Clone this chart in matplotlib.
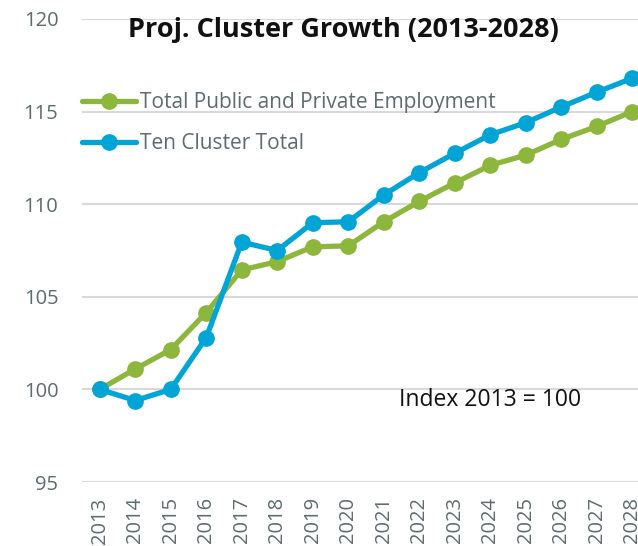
import matplotlib
matplotlib.use("Agg")
import matplotlib.pyplot as plt

years = [str(y) for y in range(2013, 2029)]
total_emp = [100.0, 101.1, 102.15, 104.15, 106.45, 106.9, 107.7, 107.75,
             109.05, 110.15, 111.15, 112.1, 112.65, 113.5, 114.2, 115.0]
ten_cluster = [100.0, 99.4, 100.0, 102.8, 107.95, 107.5, 109.0, 109.05,
               110.5, 111.7, 112.75, 113.75, 114.4, 115.25, 116.05, 116.8]
yticks = [95, 100, 105, 110, 115, 120]

plt.rcParams['font.family'] = ['Open Sans', 'DejaVu Sans']
grey = '#5f6b6d'
green = '#8db63c'
blue = '#00a5d6'

fig = plt.figure(figsize=(6.38, 5.46), dpi=100)
ax = fig.add_axes([82/638, 1-482/546, (650-82)/638, (482-19)/546])
x = list(range(len(years)))
ax.plot(x, total_emp, color=green, lw=3.8, marker='o', ms=11,
        label='Total Public and Private Employment', solid_capstyle='round')
ax.plot(x, ten_cluster, color=blue, lw=3.8, marker='o', ms=11,
        label='Ten Cluster Total', solid_capstyle='round')

ax.set_xlim(-0.5, len(years) - 0.5)
ax.set_ylim(95, 120)
ax.set_yticks(yticks)
ax.set_xticks(x)
ax.set_xticklabels(years, rotation=90, fontsize=14.5, color=grey)
ax.tick_params(axis='y', labelsize=14.5, labelcolor=grey, length=0, pad=17)
ax.tick_params(axis='x', length=0, pad=11)
for s in ax.spines.values():
    s.set_visible(False)
ax.grid(axis='y', color='#d9d9d9', lw=1.5)
ax.set_axisbelow(True)

fig.text(343/638, 1-30/546, 'Proj. Cluster Growth (2013-2028)',
         ha='center', va='center', fontsize=19.5, fontweight='bold', color='#111111')
ax.text(11, 99.45, 'Index 2013 = 100', ha='center', va='center',
        fontsize=16.5, color='#111111')

leg = ax.legend(loc='upper left', bbox_to_anchor=(-0.015, 0.86), frameon=False,
                fontsize=15, labelcolor=grey, handlelength=2.6, handletextpad=0.2,
                labelspacing=0.95, borderaxespad=0)

fig.savefig('out.png', dpi=100)
